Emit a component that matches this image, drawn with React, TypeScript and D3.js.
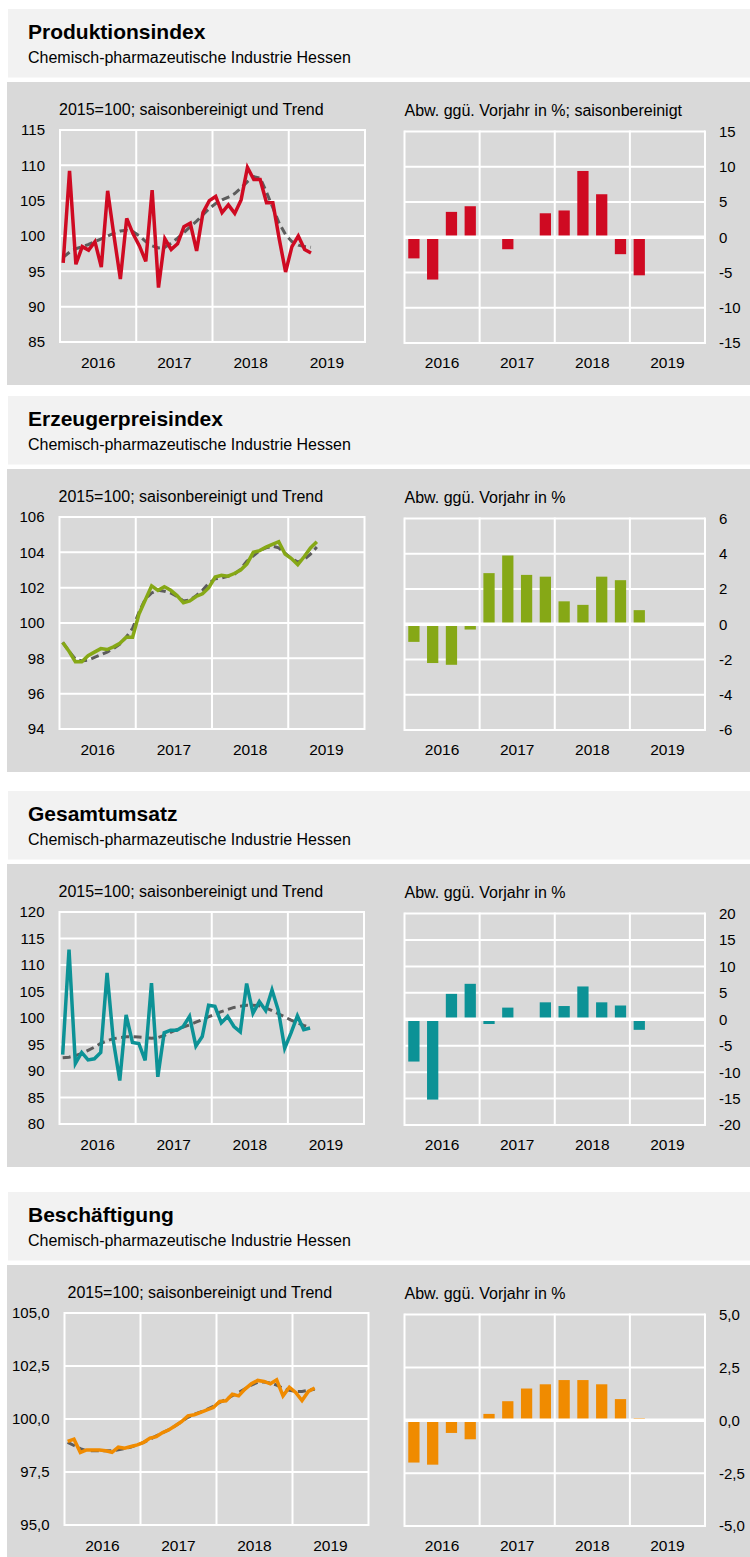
import React from "react";
import * as d3 from "d3";

// ---------- Data ----------
const years = ["2016", "2017", "2018", "2019"];

const titles = ["Produktionsindex", "Erzeugerpreisindex", "Gesamtumsatz", "Beschäftigung"];
const subtitle = "Chemisch-pharmazeutische Industrie Hessen";
const leftNotes = [
  "2015=100; saisonbereinigt und Trend",
  "2015=100; saisonbereinigt und Trend",
  "2015=100; saisonbereinigt und Trend",
  "2015=100; saisonbereinigt und Trend",
];
const rightNotes = [
  "Abw. ggü. Vorjahr in %; saisonbereinigt",
  "Abw. ggü. Vorjahr in %",
  "Abw. ggü. Vorjahr in %",
  "Abw. ggü. Vorjahr in %",
];

// monthly values from Jan 2016
const prodIndex = [96.2, 109.2, 96.0, 98.5, 98.0, 99.2, 95.6, 106.4, 100.0, 93.9, 102.5, 100.3, 98.6, 96.4, 106.5, 92.7, 99.6, 98.1, 98.9, 101.3, 101.8, 97.9, 103.3, 105.0, 105.6, 103.3, 104.4, 103.2, 105.1, 109.7, 108.0, 108.0, 104.7, 104.7, 99.6, 94.9, 98.5, 100.0, 98.1, 97.6];
const prodTrend = [97.0, 97.7, 98.2, 98.5, 98.8, 99.2, 99.6, 100.0, 100.4, 100.7, 100.8, 100.6, 100.0, 99.2, 98.6, 98.3, 98.4, 99.0, 99.7, 100.5, 101.3, 102.1, 103.0, 103.9, 104.6, 105.1, 105.5, 106.0, 106.8, 107.7, 108.4, 108.2, 106.2, 104.0, 101.8, 100.2, 99.2, 98.7, 98.5, 98.4];
const prodYoY = [-3.0, -6.0, 3.6, 4.4, 0, -1.7, 0, 3.4, 3.8, 9.4, 6.1, -2.4, -5.4];

const priceIndex = [98.9, 98.4, 97.8, 97.8, 98.15, 98.35, 98.55, 98.5, 98.65, 98.85, 99.2, 99.2, 100.5, 101.3, 102.1, 101.85, 102.05, 101.85, 101.55, 101.15, 101.25, 101.5, 101.65, 102.0, 102.6, 102.7, 102.65, 102.8, 103.0, 103.35, 104.0, 104.1, 104.3, 104.45, 104.6, 103.9, 103.65, 103.3, 103.75, 104.25, 104.6];
const priceTrend = [98.9, 98.4, 97.95, 97.85, 97.9, 98.05, 98.2, 98.35, 98.55, 98.8, 99.2, 99.7, 100.6, 101.35, 101.7, 101.85, 101.8, 101.7, 101.5, 101.25, 101.3, 101.55, 101.85, 102.25, 102.5, 102.55, 102.65, 102.75, 103.05, 103.5, 103.8, 104.1, 104.25, 104.35, 104.25, 103.95, 103.65, 103.45, 103.6, 103.9, 104.3];
const priceYoY = [-1.0, -2.2, -2.3, -0.3, 2.9, 3.9, 2.8, 2.7, 1.3, 1.1, 2.7, 2.5, 0.8];

const salesIndex = [93.1, 112.9, 91.4, 93.5, 92.1, 92.3, 93.5, 108.5, 95.6, 88.2, 100.6, 95.4, 95.2, 92.0, 106.6, 88.9, 97.2, 97.7, 97.7, 98.4, 100.3, 94.7, 96.5, 102.4, 102.2, 99.1, 100.3, 98.4, 97.4, 106.5, 100.9, 103.1, 101.4, 105.3, 101.4, 94.3, 97.2, 100.4, 97.8, 98.1];
const salesTrend = [92.5, 92.6, 92.9, 93.3, 93.9, 94.5, 95.2, 95.7, 96.1, 96.3, 96.45, 96.5, 96.4, 96.3, 96.2, 96.3, 96.7, 97.3, 97.8, 98.3, 98.7, 99.2, 99.7, 100.2, 100.7, 101.2, 101.6, 102.0, 102.2, 102.4, 102.4, 102.3, 101.9, 101.4, 100.8, 100.2, 99.6, 99.1, 98.6, 98.2];
const salesYoY = [-8.0, -15.2, 4.8, 6.7, -0.9, 2.2, 0, 3.2, 2.5, 6.2, 3.2, 2.6, -2.0];

const empIndex = [98.94, 99.05, 98.42, 98.54, 98.54, 98.54, 98.5, 98.43, 98.67, 98.62, 98.7, 98.78, 98.9, 99.1, 99.17, 99.36, 99.49, 99.68, 99.88, 100.15, 100.2, 100.31, 100.43, 100.54, 100.83, 100.86, 101.17, 101.09, 101.41, 101.66, 101.82, 101.77, 101.66, 101.85, 101.09, 101.5, 101.25, 100.87, 101.3, 101.46];
const empTrend = [98.9, 98.75, 98.6, 98.5, 98.5, 98.5, 98.5, 98.5, 98.55, 98.6, 98.68, 98.78, 98.9, 99.05, 99.2, 99.35, 99.5, 99.68, 99.88, 100.08, 100.22, 100.33, 100.45, 100.6, 100.78, 100.93, 101.1, 101.25, 101.42, 101.6, 101.73, 101.75, 101.7, 101.6, 101.45, 101.35, 101.3, 101.3, 101.35, 101.4];
const empYoY = [-2.0, -2.1, -0.6, -0.9, 0.3, 0.9, 1.5, 1.7, 1.9, 1.9, 1.7, 1.0, 0.1];

// axis ticks
const prodLeftTicks = [85, 90, 95, 100, 105, 110, 115];
const prodRightTicks = [-15, -10, -5, 0, 5, 10, 15];
const priceLeftTicks = [94, 96, 98, 100, 102, 104, 106];
const priceRightTicks = [-6, -4, -2, 0, 2, 4, 6];
const salesLeftTicks = [80, 85, 90, 95, 100, 105, 110, 115, 120];
const salesRightTicks = [-20, -15, -10, -5, 0, 5, 10, 15, 20];
const empLeftTicks = [95, 97.5, 100, 102.5, 105];
const empRightTicks = [-5, -2.5, 0, 2.5, 5];

const colors = ["#cf0a22", "#86a816", "#0c9296", "#f08b00"];

// ---------- Helpers ----------
const de = d3.formatLocale({ decimal: ",", thousands: ".", grouping: [3], currency: ["", " €"], minus: "-" });
const fmtInt = de.format("d");
const fmt1 = de.format(".1f");

const FONT = "'Liberation Sans', Arial, Helvetica, sans-serif";
const HEADER_BG = "#f2f2f2";
const CHART_BG = "#d9d9d9";
const TREND = "#5c5c5c";

type PanelCfg = {
  title: string;
  leftNote: string;
  rightNote: string;
  index: number[];
  trend: number[];
  yoy: number[];
  leftTicks: number[];
  rightTicks: number[];
  fmt: (n: number) => string;
  color: string;
  headerTop: number;
  bgHeight: number;
  lineLeft: number;
  lineRight: number;
};

const panels: PanelCfg[] = [
  { title: titles[0], leftNote: leftNotes[0], rightNote: rightNotes[0], index: prodIndex, trend: prodTrend, yoy: prodYoY, leftTicks: prodLeftTicks, rightTicks: prodRightTicks, fmt: fmtInt, color: colors[0], headerTop: 9, bgHeight: 303, lineLeft: 60, lineRight: 365 },
  { title: titles[1], leftNote: leftNotes[1], rightNote: rightNotes[1], index: priceIndex, trend: priceTrend, yoy: priceYoY, leftTicks: priceLeftTicks, rightTicks: priceRightTicks, fmt: fmtInt, color: colors[1], headerTop: 396, bgHeight: 303, lineLeft: 59.5, lineRight: 364.5 },
  { title: titles[2], leftNote: leftNotes[2], rightNote: rightNotes[2], index: salesIndex, trend: salesTrend, yoy: salesYoY, leftTicks: salesLeftTicks, rightTicks: salesRightTicks, fmt: fmtInt, color: colors[2], headerTop: 791, bgHeight: 303, lineLeft: 59.5, lineRight: 364 },
  { title: titles[3], leftNote: leftNotes[3], rightNote: rightNotes[3], index: empIndex, trend: empTrend, yoy: empYoY, leftTicks: empLeftTicks, rightTicks: empRightTicks, fmt: fmt1, color: colors[3], headerTop: 1192, bgHeight: 300, lineLeft: 64.5, lineRight: 368.5 },
];

function Panel({ p }: { p: PanelCfg }) {
  const hTop = p.headerTop;
  const bgTop = hTop + 73;
  const lTop = bgTop + 48;
  const lBot = bgTop + 260;
  const bTop = bgTop + 49.5;
  const bBot = bgTop + 261;
  const bLeft = 404.5;
  const bRight = 705;

  const xL = d3.scaleLinear().domain([0, 48]).range([p.lineLeft, p.lineRight]);
  const yL = d3.scaleLinear().domain(d3.extent(p.leftTicks) as [number, number]).range([lBot, lTop]);
  const line = d3.line<number>().x((_, i) => xL(i + 0.5)).y((d) => yL(d));

  const xB = d3.scaleBand<number>().domain(d3.range(16)).range([bLeft, bRight]).paddingInner(0.4).paddingOuter(0.2);
  const yB = d3.scaleLinear().domain(d3.extent(p.rightTicks) as [number, number]).range([bBot, bTop]);
  const xBY = d3.scaleLinear().domain([0, 4]).range([bLeft, bRight]);

  const yearBounds = d3.range(5);

  return (
    <g>
      <rect x={8} y={hTop} width={742} height={68.5} fill={HEADER_BG} />
      <text x={28} y={hTop + 30} fontFamily={FONT} fontWeight="bold" fontSize={21} fill="#000">{p.title}</text>
      <text x={28} y={hTop + 54} fontFamily={FONT} fontSize={16} fill="#000">{subtitle}</text>
      <rect x={7} y={bgTop} width={743} height={p.bgHeight} fill={CHART_BG} />

      {/* ---- Line chart ---- */}
      <text x={p.lineLeft - 1 + (p.lineLeft > 62 ? 4 : 0)} y={bgTop + 33} fontFamily={FONT} fontSize={16} fill="#000">{p.leftNote}</text>
      {p.leftTicks.map((t) => (
        <line key={"lh" + t} x1={p.lineLeft} x2={p.lineRight} y1={yL(t)} y2={yL(t)} stroke="#fff" strokeWidth={2} />
      ))}
      {yearBounds.map((k) => (
        <line key={"lv" + k} x1={xL(k * 12)} x2={xL(k * 12)} y1={lTop - 1} y2={lBot + 1} stroke="#fff" strokeWidth={2} />
      ))}
      {p.leftTicks.map((t) => (
        <text key={"lt" + t} x={p.lineLeft - 15} y={yL(t)} dy="0.36em" textAnchor="end" fontFamily={FONT} fontSize={15} fill="#000">{p.fmt(t)}</text>
      ))}
      {years.map((yr, k) => (
        <text key={"ly" + yr} x={xL(k * 12 + 6)} y={bgTop + 286} textAnchor="middle" fontFamily={FONT} fontSize={15.5} fill="#000">{yr}</text>
      ))}
      <path d={line(p.trend) || ""} fill="none" stroke={TREND} strokeWidth={3} strokeDasharray="8,4.5" />
      <path d={line(p.index) || ""} fill="none" stroke={p.color} strokeWidth={3.5} />

      {/* ---- Bar chart ---- */}
      <text x={bLeft} y={bgTop + 34} fontFamily={FONT} fontSize={16} fill="#000">{p.rightNote}</text>
      {p.rightTicks.map((t) => (
        <line key={"bh" + t} x1={bLeft} x2={bRight} y1={yB(t)} y2={yB(t)} stroke="#fff" strokeWidth={2} />
      ))}
      {yearBounds.map((k) => (
        <line key={"bv" + k} x1={xBY(k)} x2={xBY(k)} y1={bTop - 1} y2={bBot + 1} stroke="#fff" strokeWidth={2} />
      ))}
      {p.yoy.map((v, i) => (
        <rect key={"bar" + i} x={xB(i)} width={xB.bandwidth()} y={yB(Math.max(0, v))} height={Math.abs(yB(v) - yB(0))} fill={p.color} />
      ))}
      <line x1={bLeft} x2={bRight} y1={yB(0)} y2={yB(0)} stroke="#fff" strokeWidth={3.5} />
      {p.rightTicks.map((t) => (
        <text key={"bt" + t} x={bRight + 14} y={yB(t)} dy="0.36em" textAnchor="start" fontFamily={FONT} fontSize={15} fill="#000">{p.fmt(t)}</text>
      ))}
      {years.map((yr, k) => (
        <text key={"by" + yr} x={xBY(k + 0.5)} y={bgTop + 285.5} textAnchor="middle" fontFamily={FONT} fontSize={15.5} fill="#000">{yr}</text>
      ))}
    </g>
  );
}

export default function App() {
  return (
    <svg width={750} height={1557} viewBox="0 0 750 1557" style={{ position: "absolute", left: 0, top: 0, background: "#fff" }}>
      <rect x={0} y={0} width={750} height={1557} fill="#fff" />
      {panels.map((p, i) => (
        <Panel key={i} p={p} />
      ))}
    </svg>
  );
}
